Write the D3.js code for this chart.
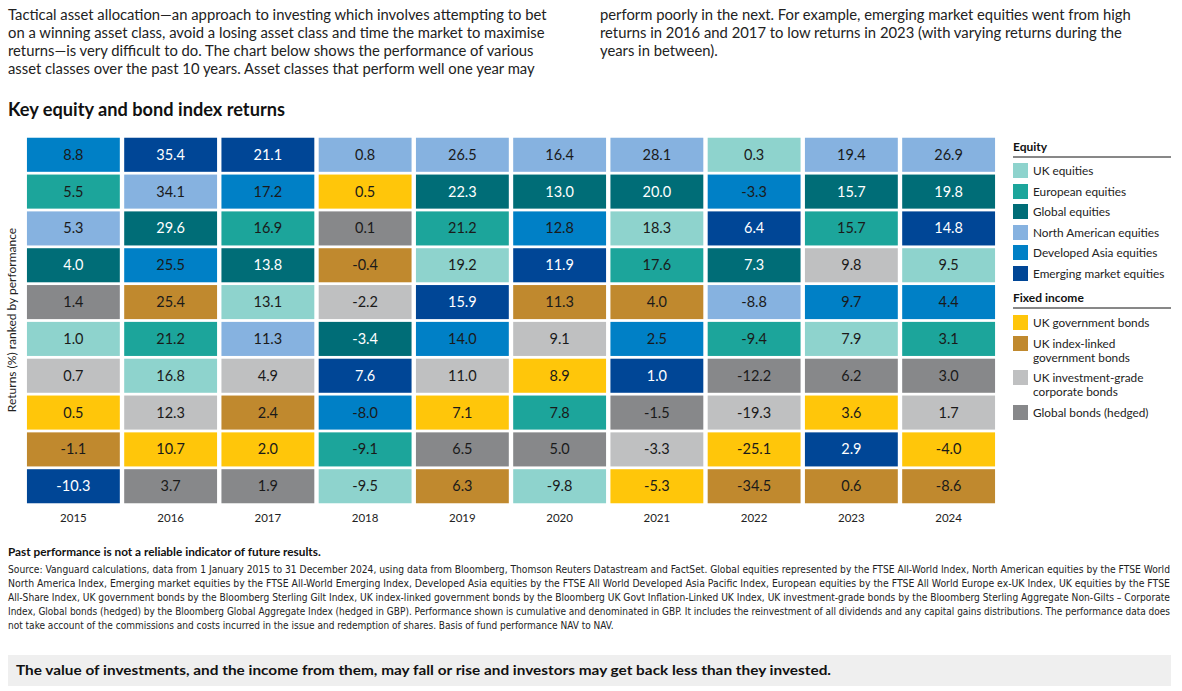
<!DOCTYPE html>
<html><head><meta charset="utf-8">
<script src="https://cdn.jsdelivr.net/npm/d3@7/dist/d3.min.js"></script>
<style>body{margin:0;background:#fff;font-family:Lato,"Open Sans",sans-serif;}</style>
</head><body><svg id="c" width="1182" height="691"></svg>
<script>
const years = ["2015","2016","2017","2018","2019","2020","2021","2022","2023","2024"];
const categories = [
 {k:"UK",name:"UK equities",c:"#8ed3cd",group:"Equity"},
 {k:"EU",name:"European equities",c:"#1ca59b",group:"Equity"},
 {k:"GL",name:"Global equities",c:"#006d77",group:"Equity"},
 {k:"NA",name:"North American equities",c:"#86b2e0",group:"Equity"},
 {k:"DA",name:"Developed Asia equities",c:"#0080c6",group:"Equity"},
 {k:"EM",name:"Emerging market equities",c:"#004696",group:"Equity"},
 {k:"GB",name:"UK government bonds",c:"#ffc60a",group:"Fixed income"},
 {k:"IL",name:"UK index-linked|government bonds",c:"#c0892e",group:"Fixed income"},
 {k:"IG",name:"UK investment-grade|corporate bonds",c:"#bfc0c1",group:"Fixed income"},
 {k:"GH",name:"Global bonds (hedged)",c:"#87888a",group:"Fixed income"}
];
// per year, ranked top to bottom
const rankCats = [
 ["DA","EU","NA","GL","GH","UK","IG","GB","IL","EM"],
 ["EM","NA","GL","DA","IL","EU","UK","IG","GB","GH"],
 ["EM","DA","EU","GL","UK","NA","IG","IL","GB","GH"],
 ["NA","GB","GH","IL","IG","GL","EM","DA","EU","UK"],
 ["NA","GL","EU","UK","EM","DA","IG","GB","GH","IL"],
 ["NA","GL","DA","EM","IL","IG","GB","EU","GH","UK"],
 ["NA","GL","UK","EU","IL","DA","EM","GH","IG","GB"],
 ["UK","DA","EM","GL","NA","EU","GH","IG","GB","IL"],
 ["NA","GL","EU","IG","DA","UK","GH","GB","EM","IL"],
 ["NA","GL","EM","UK","DA","EU","GH","IG","GB","IL"]
];
const rankVals = [
 ["8.8","5.5","5.3","4.0","1.4","1.0","0.7","0.5","-1.1","-10.3"],
 ["35.4","34.1","29.6","25.5","25.4","21.2","16.8","12.3","10.7","3.7"],
 ["21.1","17.2","16.9","13.8","13.1","11.3","4.9","2.4","2.0","1.9"],
 ["0.8","0.5","0.1","-0.4","-2.2","-3.4","7.6","-8.0","-9.1","-9.5"],
 ["26.5","22.3","21.2","19.2","15.9","14.0","11.0","7.1","6.5","6.3"],
 ["16.4","13.0","12.8","11.9","11.3","9.1","8.9","7.8","5.0","-9.8"],
 ["28.1","20.0","18.3","17.6","4.0","2.5","1.0","-1.5","-3.3","-5.3"],
 ["0.3","-3.3","6.4","7.3","-8.8","-9.4","-12.2","-19.3","-25.1","-34.5"],
 ["19.4","15.7","15.7","9.8","9.7","7.9","6.2","3.6","2.9","0.6"],
 ["26.9","19.8","14.8","9.5","4.4","3.1","3.0","1.7","-4.0","-8.6"]
];
const introLeft = ["Tactical asset allocation—an approach to investing which involves attempting to bet","on a winning asset class, avoid a losing asset class and time the market to maximise","returns—is very difficult to do. The chart below shows the performance of various","asset classes over the past 10 years. Asset classes that perform well one year may"];
const introRight = ["perform poorly in the next. For example, emerging market equities went from high","returns in 2016 and 2017 to low returns in 2023 (with varying returns during the","years in between)."];
const sourceLines = ["Source: Vanguard calculations, data from 1 January 2015 to 31 December 2024, using data from Bloomberg, Thomson Reuters Datastream and FactSet. Global equities represented by the FTSE All-World Index, North American equities by the FTSE World",
"North America Index, Emerging market equities by the FTSE All-World Emerging Index, Developed Asia equities by the FTSE All World Developed Asia Pacific Index, European equities by the FTSE All World Europe ex-UK Index, UK equities by the FTSE",
"All-Share Index, UK government bonds by the Bloomberg Sterling Gilt Index, UK index-linked government bonds by the Bloomberg UK Govt Inflation-Linked UK Index, UK investment-grade bonds by the Bloomberg Sterling Aggregate Non-Gilts – Corporate",
"Index, Global bonds (hedged) by the Bloomberg Global Aggregate Index (hedged in GBP). Performance shown is cumulative and denominated in GBP. It includes the reinvestment of all dividends and any capital gains distributions. The performance data does",
"not take account of the commissions and costs incurred in the issue and redemption of shares. Basis of fund performance NAV to NAV."];

const svg = d3.select("#c");
const cmap = new Map(categories.map(d=>[d.k,d]));
const dark = new Set(["GL","EM"]);

introLeft.forEach((t,i)=>svg.append("text").attr("x",8).attr("y",20+i*18).attr("font-size",14.8).attr("fill","#222").text(t));
introRight.forEach((t,i)=>svg.append("text").attr("x",600).attr("y",20+i*18).attr("font-size",14.8).attr("fill","#222").text(t));
svg.append("text").attr("x",8).attr("y",116).attr("font-size",18.2).attr("font-weight",700).attr("fill","#111").text("Key equity and bond index returns");

const x = d3.scaleBand().domain(years).range([25,997]).paddingInner(0.045).paddingOuter(0.02);
const ranks = d3.range(10);
const y = d3.scaleBand().domain(ranks).range([137,504]).paddingInner(0.075).paddingOuter(0.02);

const cells = [];
years.forEach((yr,i)=>ranks.forEach(r=>cells.push({yr,r,k:rankCats[i][r],v:rankVals[i][r]})));
const g = svg.append("g");
g.selectAll("rect").data(cells).join("rect")
 .attr("x",d=>x(d.yr)).attr("y",d=>y(d.r)).attr("width",x.bandwidth()).attr("height",y.bandwidth())
 .attr("fill",d=>cmap.get(d.k).c);
g.selectAll("text").data(cells).join("text")
 .attr("x",d=>x(d.yr)+x.bandwidth()/2).attr("y",d=>y(d.r)+y.bandwidth()/2+5)
 .attr("text-anchor","middle").attr("font-size",14.5)
 .attr("fill",d=>dark.has(d.k)?"#fff":"#1a1a1a").text(d=>d.v);

const xa = svg.append("g").attr("transform","translate(0,506)").call(d3.axisBottom(x).tickSize(0).tickPadding(8));
xa.select(".domain").remove();
xa.selectAll("text").attr("font-size",11.5).attr("fill","#222").attr("font-family","Lato,sans-serif");

svg.append("text").attr("transform","translate(16,320) rotate(-90)").attr("text-anchor","middle").attr("font-size",12).attr("fill","#222").text("Returns (%) ranked by performance");

// legend
const lx=1013;
function header(t,yy){svg.append("text").attr("x",lx).attr("y",yy).attr("font-size",12).attr("font-weight",700).attr("fill","#111").text(t);
 svg.append("line").attr("x1",lx).attr("x2",1171).attr("y1",yy+6).attr("y2",yy+6).attr("stroke","#111").attr("stroke-width",1);}
header("Equity",151);
header("Fixed income",302);
const ly = [163,184,204,225,245,266,315,336,370,405];
categories.forEach((c,i)=>{
 svg.append("rect").attr("x",lx).attr("y",ly[i]).attr("width",15).attr("height",15).attr("fill",c.c);
 c.name.split("|").forEach((t,j)=>svg.append("text").attr("x",lx+20).attr("y",ly[i]+12+j*14).attr("font-size",11.8).attr("fill","#222").text(t));
});

svg.append("text").attr("x",8).attr("y",556).attr("font-size",11.8).attr("font-weight",700).attr("fill","#111").text("Past performance is not a reliable indicator of future results.");
sourceLines.forEach((t,i)=>svg.append("text").attr("x",8).attr("y",573+i*14).attr("font-size",10).attr("fill","#222")
 .attr("font-family","'Liberation Sans Narrow','DejaVu Sans Condensed',sans-serif").attr("textLength",i<4?1162:null).attr("lengthAdjust","spacingAndGlyphs").text(t));
svg.append("rect").attr("x",8).attr("y",655).attr("width",1163).attr("height",31).attr("fill","#efefef");
svg.append("text").attr("x",16).attr("y",675).attr("font-size",14).attr("font-weight",700).attr("fill","#111")
 .attr("textLength",815).attr("lengthAdjust","spacingAndGlyphs").text("The value of investments, and the income from them, may fall or rise and investors may get back less than they invested.");
</script></body></html>
